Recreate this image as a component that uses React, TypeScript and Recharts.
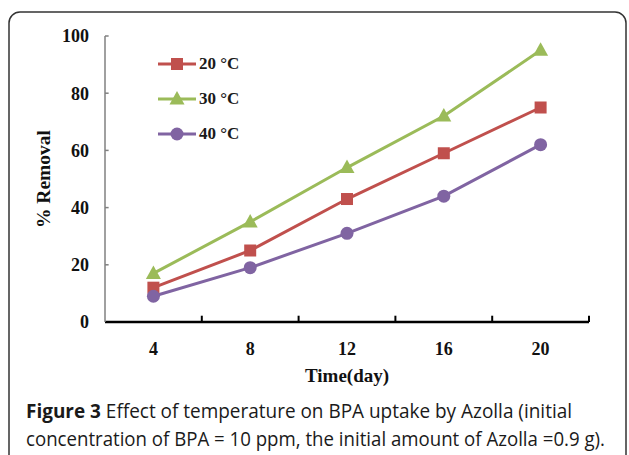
import React from "react";
import {
  LineChart,
  Line,
  XAxis,
  YAxis,
  Legend,
  ReferenceLine,
} from "recharts";

const days = [4, 8, 12, 16, 20];
const temp20 = [12, 25, 43, 59, 75];
const temp30 = [17, 35, 54, 72, 95];
const temp40 = [9, 19, 31, 44, 62];
const yTicks = [0, 20, 40, 60, 80, 100];
// Excel style: tick marks sit between the categories
const xBoundaries = [6, 10, 14, 18, 22];

const data = days.map((day, i) => ({
  day,
  t20: temp20[i],
  t30: temp30[i],
  t40: temp40[i],
}));

const RED = "#C0504D";
const GREEN = "#9BBB59";
const PURPLE = "#8064A2";
const serif = '"Liberation Serif", "DejaVu Serif", serif';

const Square = (props: any) => {
  const { cx, cy, fill } = props;
  if (cx == null || cy == null) return null;
  return <rect x={cx - 6} y={cy - 6} width={12} height={12} fill={fill} />;
};

const Triangle = (props: any) => {
  const { cx, cy, fill } = props;
  if (cx == null || cy == null) return null;
  return (
    <polygon
      points={`${cx},${cy - 8} ${cx + 7.5},${cy + 5.5} ${cx - 7.5},${cy + 5.5}`}
      fill={fill}
    />
  );
};

const Circle = (props: any) => {
  const { cx, cy, fill } = props;
  if (cx == null || cy == null) return null;
  return <circle cx={cx} cy={cy} r={6.5} fill={fill} />;
};

const series = [
  { key: "t20", name: "20 °C", color: RED, Marker: Square },
  { key: "t30", name: "30 °C", color: GREEN, Marker: Triangle },
  { key: "t40", name: "40 °C", color: PURPLE, Marker: Circle },
];

const LegendBox = () => (
  <div>
    {series.map((s) => (
      <div
        key={s.key}
        style={{ display: "flex", alignItems: "center", height: 35 }}
      >
        <svg width={40} height={20}>
          <line x1={0} y1={10} x2={38} y2={10} stroke={s.color} strokeWidth={3} />
          <s.Marker cx={19} cy={10} fill={s.color} />
        </svg>
        <span
          style={{
            fontFamily: serif,
            fontWeight: "bold",
            fontSize: 17,
            color: "#1a1a1a",
            marginLeft: 1,
          }}
        >
          {s.name}
        </span>
      </div>
    ))}
  </div>
);

const tickStyle = {
  fontFamily: serif,
  fontWeight: "bold",
  fontSize: 18,
  fill: "#111",
};

export default function App() {
  return (
    <div
      style={{
        position: "absolute",
        left: 0,
        top: 0,
        width: 629,
        height: 455,
        background: "#fff",
        overflow: "hidden",
      }}
    >
      <LineChart
        width={629}
        height={455}
        data={data}
        margin={{ top: 36, right: 40, bottom: 73, left: 40 }}
      >
        <XAxis
          dataKey="day"
          type="number"
          domain={[2, 22]}
          ticks={days}
          tickLine={false}
          tickSize={0}
          tickMargin={20}
          height={60}
          axisLine={{ stroke: "#000", strokeWidth: 2.5 }}
          tick={tickStyle}
          label={{
            value: "Time(day)",
            position: "insideBottom",
            offset: 0,
            style: { fontFamily: serif, fontWeight: "bold", fontSize: 19, fill: "#111" },
          }}
        />
        <YAxis
          type="number"
          domain={[0, 100]}
          ticks={yTicks}
          width={65}
          tickLine={false}
          tickSize={0}
          tickMargin={16}
          axisLine={{ stroke: "#808080", strokeWidth: 1.5 }}
          tick={tickStyle}
          label={{
            value: "% Removal",
            angle: -90,
            position: "insideLeft",
            offset: 3,
            style: {
              fontFamily: serif,
              fontWeight: "bold",
              fontSize: 19.5,
              fill: "#111",
              textAnchor: "middle",
            },
          }}
        />
        {xBoundaries.map((x) => (
          <ReferenceLine
            key={`xb${x}`}
            segment={[
              { x, y: 0 },
              { x, y: 2.2 },
            ]}
            stroke="#000"
            strokeWidth={2}
            ifOverflow="visible"
          />
        ))}
        {yTicks.map((y) => (
          <ReferenceLine
            key={`yb${y}`}
            segment={[
              { x: 2, y },
              { x: 2.15, y },
            ]}
            stroke="#808080"
            strokeWidth={1.5}
            ifOverflow="visible"
          />
        ))}
        {series.map((s) => (
          <Line
            key={s.key}
            dataKey={s.key}
            name={s.name}
            stroke={s.color}
            strokeWidth={3}
            isAnimationActive={false}
            dot={(p: any) => <s.Marker key={`${s.key}-${p.index}`} cx={p.cx} cy={p.cy} fill={s.color} />}
            activeDot={false}
          />
        ))}
        <Legend
          layout="horizontal"
          verticalAlign="middle"
          align="center"
          content={() => <LegendBox />}
          wrapperStyle={{ left: 158, top: 46, width: 120 }}
        />
      </LineChart>
      <svg
        width={629}
        height={455}
        style={{ position: "absolute", left: 0, top: 0, pointerEvents: "none" }}
      >
        <rect
          x={9}
          y={12}
          width={617}
          height={470}
          rx={11}
          fill="none"
          stroke="#333"
          strokeWidth={1.5}
        />
        <text
          x={26}
          y={418}
          fontFamily='"Open Sans", "Noto Sans", sans-serif'
          fontSize={20}
          fill="#1a1a1a"
          textLength={546}
          lengthAdjust="spacingAndGlyphs"
        >
          <tspan fontWeight="bold">Figure 3</tspan> Effect of temperature on BPA uptake by Azolla (initial
        </text>
        <text
          x={26}
          y={446}
          fontFamily='"Open Sans", "Noto Sans", sans-serif'
          fontSize={20}
          fill="#1a1a1a"
          textLength={579}
          lengthAdjust="spacingAndGlyphs"
        >
          concentration of BPA = 10 ppm, the initial amount of Azolla =0.9 g).
        </text>
      </svg>
    </div>
  );
}
